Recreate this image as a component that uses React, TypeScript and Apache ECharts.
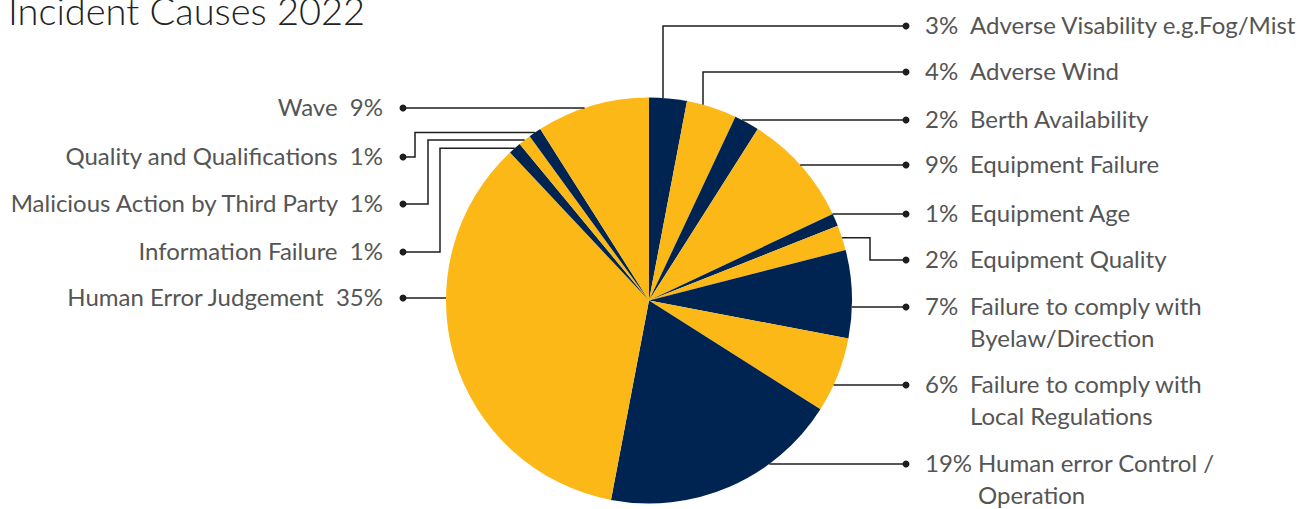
import React, { useEffect, useRef } from "react";
import * as echarts from "echarts";

const TITLE = "Incident Causes 2022";
const causes = [
  "Adverse Visability e.g.Fog/Mist",
  "Adverse Wind",
  "Berth Availability",
  "Equipment Failure",
  "Equipment Age",
  "Equipment Quality",
  "Failure to comply with\nByelaw/Direction",
  "Failure to comply with\nLocal Regulations",
  "Human error Control /\nOperation",
  "Human Error Judgement",
  "Information Failure",
  "Malicious Action by Third Party",
  "Quality and Qualifications",
  "Wave",
];
const shares = [3, 4, 2, 9, 1, 2, 7, 6, 19, 35, 1, 1, 1, 9];

const NAVY = "#002452";
const YELLOW = "#FBB817";
const TEXT = "#555555";
const LINE = "#1e1e1e";
const FONT = "Lato";
const FS = 24;

// label layout (annotation positions)
type Route = "h" | "v" | "elbow";
const layout: { side: "r" | "l"; y: number; route: Route; at?: number; nameX?: number }[] = [
  { side: "r", y: 26, route: "v", at: 663 },
  { side: "r", y: 72, route: "v", at: 703 },
  { side: "r", y: 120, route: "h" },
  { side: "r", y: 165, route: "h" },
  { side: "r", y: 214, route: "h" },
  { side: "r", y: 260, route: "elbow", at: 870 },
  { side: "r", y: 307, route: "h" },
  { side: "r", y: 385, route: "h" },
  { side: "r", y: 464, route: "h", nameX: 978 },
  { side: "l", y: 298, route: "h" },
  { side: "l", y: 252, route: "elbow", at: 440 },
  { side: "l", y: 204, route: "elbow", at: 428 },
  { side: "l", y: 157, route: "elbow", at: 415 },
  { side: "l", y: 108, route: "h" },
];

const CX = 649;
const CY = 300.5;
const R = 203;
const TEXT_DY = -1.5;

export default function App() {
  const ref = useRef<HTMLDivElement>(null);
  useEffect(() => {
    if (!ref.current) return;
    const chart = echarts.init(ref.current, null, { renderer: "svg" });
    const total = shares.reduce((a, b) => a + b, 0);
    const graphics: any[] = [];
    graphics.push({
      type: "text",
      style: { text: TITLE, x: 8, y: 10, fontSize: 38, fontFamily: FONT, fontWeight: 300, fill: "#222", verticalAlign: "middle" },
    });
    let cum = 0;
    shares.forEach((v, i) => {
      const frac = (cum + v / 2) / total;
      cum += v;
      const th = frac * Math.PI * 2;
      const mid = [CX + R * Math.sin(th), CY - R * Math.cos(th)];
      const L = layout[i];
      const dotX = L.side === "r" ? 906 : 403;
      let pts: number[][] = [];
      if (L.route === "h") {
        const dx = Math.sqrt(Math.max(0, R * R - (L.y - CY) * (L.y - CY)));
        const sx = L.side === "r" ? CX + dx : CX - dx;
        pts = [[sx, L.y], [dotX, L.y]];
      } else if (L.route === "v") {
        const x = L.at as number;
        const sy = CY - Math.sqrt(R * R - (x - CX) * (x - CX));
        pts = [[x, sy], [x, L.y], [dotX, L.y]];
      } else {
        const x = L.at as number;
        pts = [mid, [x, mid[1]], [x, L.y], [dotX, L.y]];
      }
      graphics.push({
        type: "polyline",
        shape: { points: pts },
        style: { stroke: LINE, lineWidth: 1.5, fill: null },
        z: 10,
      });
      graphics.push({ type: "circle", shape: { cx: dotX, cy: L.y, r: 3.5 }, style: { fill: LINE }, z: 10 });
      const pct = v + "%";
      if (L.side === "r") {
        graphics.push({
          type: "text",
          style: { text: pct, x: 925, y: L.y + TEXT_DY, fontSize: FS, fontFamily: FONT, fill: TEXT, verticalAlign: "middle" },
        });
        graphics.push({
          type: "text",
          style: {
            text: causes[i], x: L.nameX ?? 970, y: L.y + TEXT_DY - 16, fontSize: FS, lineHeight: 32,
            fontFamily: FONT, fill: TEXT, verticalAlign: "top",
          },
        });
      } else {
        graphics.push({
          type: "text",
          style: {
            text: causes[i] + "  " + pct, x: 383, y: L.y + TEXT_DY, fontSize: FS, fontFamily: FONT,
            fill: TEXT, align: "right", verticalAlign: "middle",
          },
        });
      }
    });

    chart.setOption({
      animation: false,
      series: [
        {
          type: "pie",
          center: [CX, CY],
          radius: R,
          startAngle: 90,
          clockwise: true,
          silent: true,
          label: { show: false },
          labelLine: { show: false },
          itemStyle: { borderWidth: 0 },
          data: causes.map((c, i) => ({
            name: c,
            value: shares[i],
            itemStyle: { color: i % 2 === 0 ? NAVY : YELLOW },
          })),
        },
      ],
      graphic: graphics,
    });
    return () => chart.dispose();
  }, []);
  return <div ref={ref} style={{ position: "fixed", left: 0, top: 0, width: 1311, height: 509, background: "#fff" }} />;
}
